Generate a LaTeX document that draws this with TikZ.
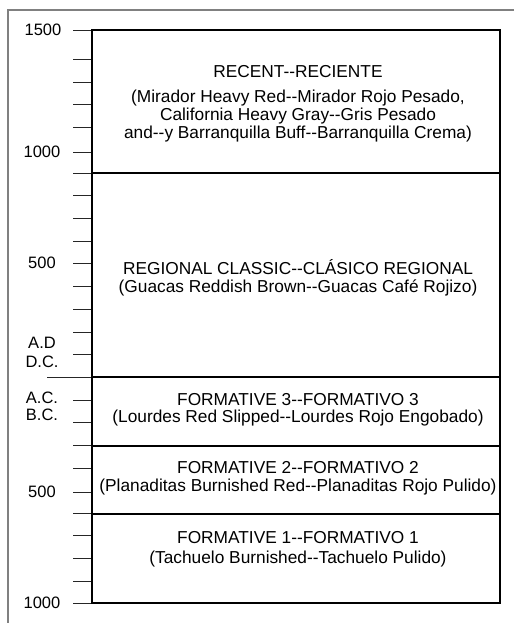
\documentclass[tikz,border=0pt]{standalone}
\usepackage{fontspec}
\setmainfont{Liberation Sans}
\usetikzlibrary{positioning}
\tikzset{
  per/.style={draw,line width=1.3pt},
  tck/.style={line width=0.8pt,black!85},
  frm/.style={line width=1.6pt,black!50},
  ttl/.style={anchor=base,inner sep=0pt,font=\fontsize{17.3}{18}\selectfont},
  sub/.style={ttl,align=center},
  yr/.style={inner sep=0pt,font=\fontsize{16.5}{16.5}\selectfont},
}
% two plain hyphens, as printed
\newcommand{\dd}{-{}-}

\begin{document}
\begin{tikzpicture}[x=1pt,y=-1pt]
  \useasboundingbox (0,0) rectangle (514,623);
  % frame (top and left only)
  \draw[frm] (514,10) -- (8,10) -- (8,623);
  % time scale
  \foreach \y in {30,59,82,104,127,152,173,195,218,241,263,286,309,332,354,400,422,445,468,492,513,535,558,581,603}
    \draw[tck] (73,\y) -- (92,\y);
  \draw[tck] (47,377) -- (92,377);
  \node[yr] (ad1500) at (43,30) {1500};
  \node[yr] (ad1000) at (42,152) {1000};
  \node[yr] (ad500) at (42,263) {500};
  \node[yr] (ad) at (42,343) {A.D};
  \node[yr] (dc) at (42,362) {D.C.};
  \node[yr] (ac) at (42,398) {A.C.};
  \node[yr] (bc) at (42,415) {B.C.};
  \node[yr] (bc500) at (42,492) {500};
  \node[yr] (bc1000) at (42,603) {1000};
  % periods
  \draw[per] (92,30) rectangle (500,603);
  \draw[per] (92,173) -- (500,173);
  \draw[per] (92,377) -- (500,377);
  \draw[per] (92,446) -- (500,446);
  \draw[per] (92,514) -- (500,514);
  \node[ttl] (rec) at (298,78) {RECENT\dd RECIENTE};
  \node[sub] (recsub) at (298,138.5) {(Mirador Heavy Red\dd Mirador Rojo Pesado,\\California Heavy Gray\dd Gris Pesado\\and\dd y Barranquilla Buff\dd Barranquilla Crema)};
  \node[ttl] (reg) at (298,274) {REGIONAL CLASSIC\dd CLÁSICO REGIONAL};
  \node[sub] (regsub) at (298,292.5) {(Guacas Reddish Brown\dd Guacas Café Rojizo)};
  \node[ttl] (fthree) at (298,405) {FORMATIVE 3\dd FORMATIVO 3};
  \node[sub] (fthreesub) at (298,422.5) {(Lourdes Red Slipped\dd Lourdes Rojo Engobado)};
  \node[ttl] (ftwo) at (298,473) {FORMATIVE 2\dd FORMATIVO 2};
  \node[sub] (ftwosub) at (298,491.5) {(Planaditas Burnished Red\dd Planaditas Rojo Pulido)};
  \node[ttl] (fone) at (298,543) {FORMATIVE 1\dd FORMATIVO 1};
  \node[sub] (fonesub) at (298,563.5) {(Tachuelo Burnished\dd Tachuelo Pulido)};
\end{tikzpicture}
\end{document}
